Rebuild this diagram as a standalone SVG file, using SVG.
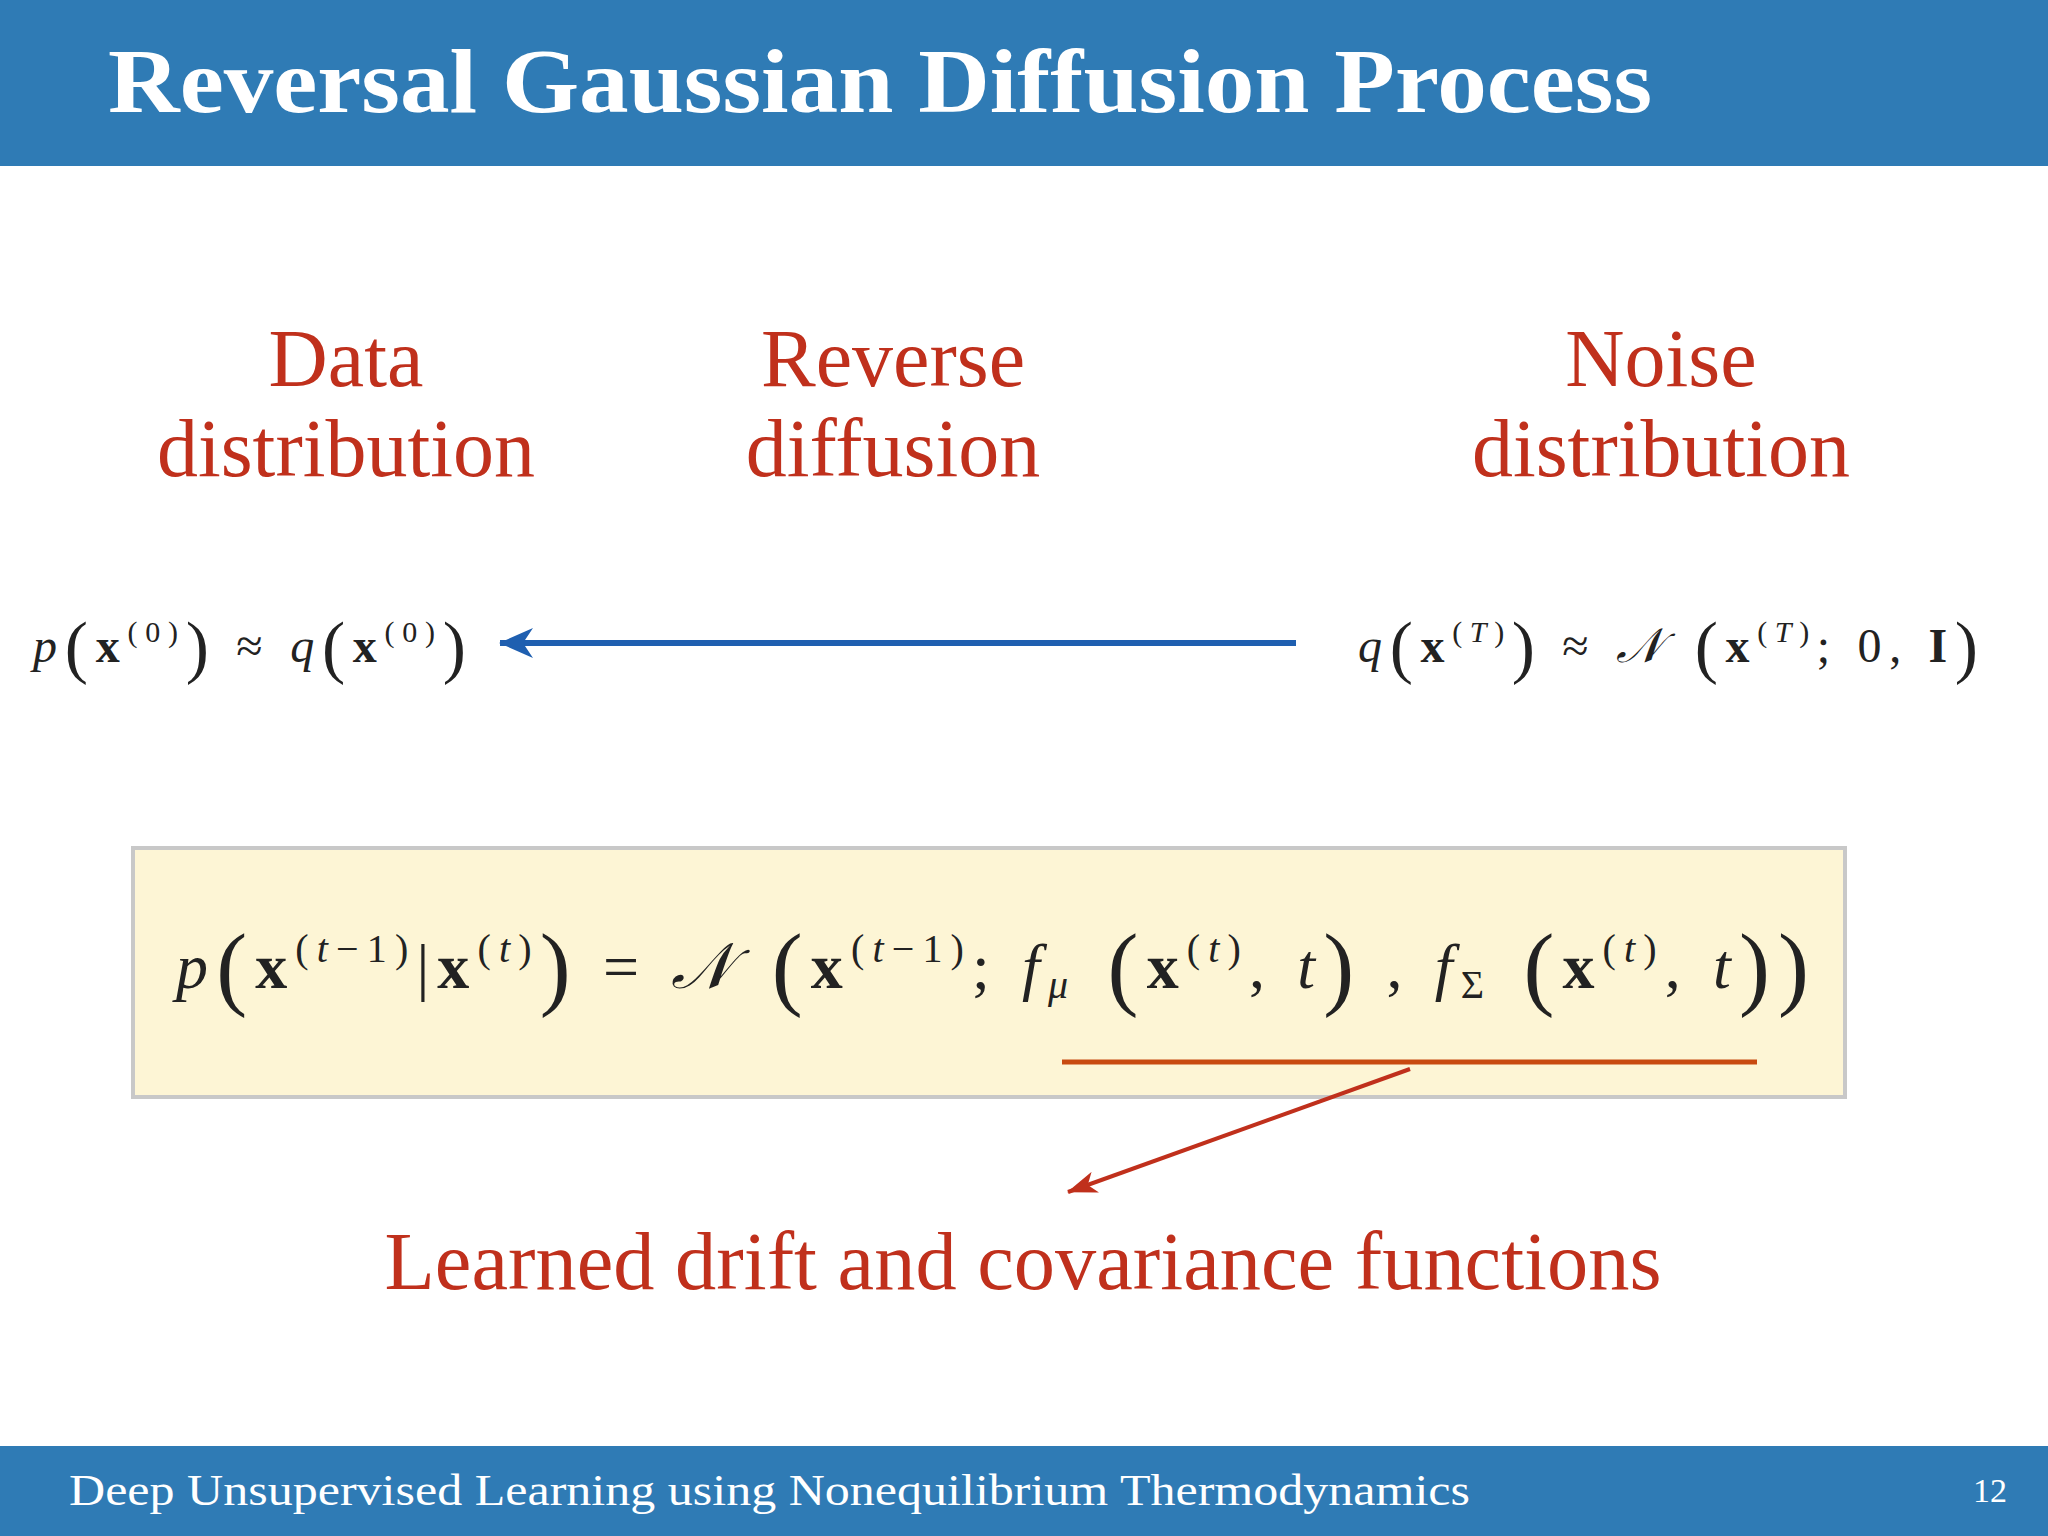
<svg xmlns="http://www.w3.org/2000/svg" width="2048" height="1536" viewBox="0 0 2048 1536">
<defs>
<style>
.hd{font-family:"Liberation Serif",serif;fill:#fff}
.rl{font-family:"Liberation Serif",serif;fill:#c0301c;font-size:82px;text-anchor:middle}
.m{font-family:"Liberation Serif",serif;fill:#222}
.i{font-style:italic}
.b{font-weight:bold}
.p{font-size:1.45em}
</style>
<marker id="ab" markerWidth="34" markerHeight="30" refX="33" refY="15" orient="auto" markerUnits="userSpaceOnUse" viewBox="0 0 34 30"><path d="M0,0 L34,15 L0,30 L10,15 Z" fill="#1f5fb0"/></marker>
<marker id="ar" markerWidth="30" markerHeight="22" refX="29" refY="11" orient="auto" markerUnits="userSpaceOnUse" viewBox="0 0 30 22"><path d="M0,0 L30,11 L0,22 L8,11 Z" fill="#c0301c"/></marker>
</defs>
<rect width="2048" height="1536" fill="#fff"/>
<g id="header"><rect width="2048" height="166" fill="#2f7bb5"/>
<text class="hd" x="108" y="112" font-size="92" font-weight="bold" textLength="1544" lengthAdjust="spacingAndGlyphs">Reversal Gaussian Diffusion Process</text></g>
<g id="footer"><rect y="1446" width="2048" height="90" fill="#2f7bb5"/>
<text class="hd" x="69" y="1505" font-size="44" textLength="1401" lengthAdjust="spacingAndGlyphs">Deep Unsupervised Learning using Nonequilibrium Thermodynamics</text>
<text class="hd" x="2007" y="1502" font-size="34" text-anchor="end">12</text></g>
<g id="data"><text class="rl" x="346" y="386">Data</text><text class="rl" x="346" y="476">distribution</text></g>
<g id="reverse"><text class="rl" x="893" y="386">Reverse</text><text class="rl" x="893" y="476">diffusion</text></g>
<g id="noise"><text class="rl" x="1661" y="386">Noise</text><text class="rl" x="1661" y="476">distribution</text></g>
<g id="leftformula"><text class="m" x="33" y="662" font-size="48" textLength="433" lengthAdjust="spacing"><tspan class="i">p</tspan><tspan class="p" dy="8">(</tspan><tspan class="b" dy="-8">x</tspan><tspan font-size="30" dy="-20">(0)</tspan><tspan class="p" dy="28">)</tspan><tspan dy="-8"> ≈ </tspan><tspan class="i">q</tspan><tspan class="p" dy="8">(</tspan><tspan class="b" dy="-8">x</tspan><tspan font-size="30" dy="-20">(0)</tspan><tspan class="p" dy="28">)</tspan></text></g>
<g id="rightformula"><text class="m" x="1358" y="662" font-size="48" textLength="620" lengthAdjust="spacing"><tspan class="i">q</tspan><tspan class="p" dy="8">(</tspan><tspan class="b" dy="-8">x</tspan><tspan font-size="30" dy="-20">(</tspan><tspan font-size="30" class="i">T</tspan><tspan font-size="30">)</tspan><tspan class="p" dy="28">)</tspan><tspan dy="-8"> ≈ </tspan><tspan class="i">𝒩</tspan><tspan class="p" dy="8"> (</tspan><tspan class="b" dy="-8">x</tspan><tspan font-size="30" dy="-20">(</tspan><tspan font-size="30" class="i">T</tspan><tspan font-size="30">)</tspan><tspan dy="20">; 0, </tspan><tspan class="b">I</tspan><tspan class="p" dy="8">)</tspan></text></g>
<g id="box"><rect x="133" y="848" width="1712" height="249" fill="#fdf5d5" stroke="#c8c8c8" stroke-width="4"/>
<text class="m" x="176" y="988" font-size="64" textLength="1633" lengthAdjust="spacing"><tspan class="i">p</tspan><tspan class="p" dy="10">(</tspan><tspan class="b" dy="-10">x</tspan><tspan font-size="40" dy="-26">(</tspan><tspan font-size="40" class="i">t</tspan><tspan font-size="40">−1)</tspan><tspan dy="26">|</tspan><tspan class="b">x</tspan><tspan font-size="40" dy="-26">(</tspan><tspan font-size="40" class="i">t</tspan><tspan font-size="40">)</tspan><tspan class="p" dy="36">)</tspan><tspan dy="-10"> = </tspan><tspan class="i">𝒩</tspan><tspan class="p" dy="10"> (</tspan><tspan class="b" dy="-10">x</tspan><tspan font-size="40" dy="-26">(</tspan><tspan font-size="40" class="i">t</tspan><tspan font-size="40">−1)</tspan><tspan dy="26">; </tspan><tspan class="i">f</tspan><tspan font-size="40" class="i" dy="10">μ</tspan><tspan class="p"> (</tspan><tspan class="b" dy="-10">x</tspan><tspan font-size="40" dy="-26">(</tspan><tspan font-size="40" class="i">t</tspan><tspan font-size="40">)</tspan><tspan dy="26">, </tspan><tspan class="i">t</tspan><tspan class="p" dy="10">)</tspan><tspan dy="-10"> , </tspan><tspan class="i">f</tspan><tspan font-size="40" dy="10">Σ</tspan><tspan class="p"> (</tspan><tspan class="b" dy="-10">x</tspan><tspan font-size="40" dy="-26">(</tspan><tspan font-size="40" class="i">t</tspan><tspan font-size="40">)</tspan><tspan dy="26">, </tspan><tspan class="i">t</tspan><tspan class="p" dy="10">))</tspan></text></g>
<g id="connectors">
<line x1="1296" y1="643" x2="500" y2="643" stroke="#1f5fb0" stroke-width="6" marker-end="url(#ab)"/>
<line x1="1062" y1="1062" x2="1757" y2="1062" stroke="#c84a10" stroke-width="5"/>
<line x1="1410" y1="1069" x2="1068" y2="1192" stroke="#c0301c" stroke-width="4" marker-end="url(#ar)"/>
</g>
<g id="learned"><text class="rl" x="1023" y="1289" font-size="80" textLength="1277" lengthAdjust="spacingAndGlyphs">Learned drift and covariance functions</text></g>
</svg>
